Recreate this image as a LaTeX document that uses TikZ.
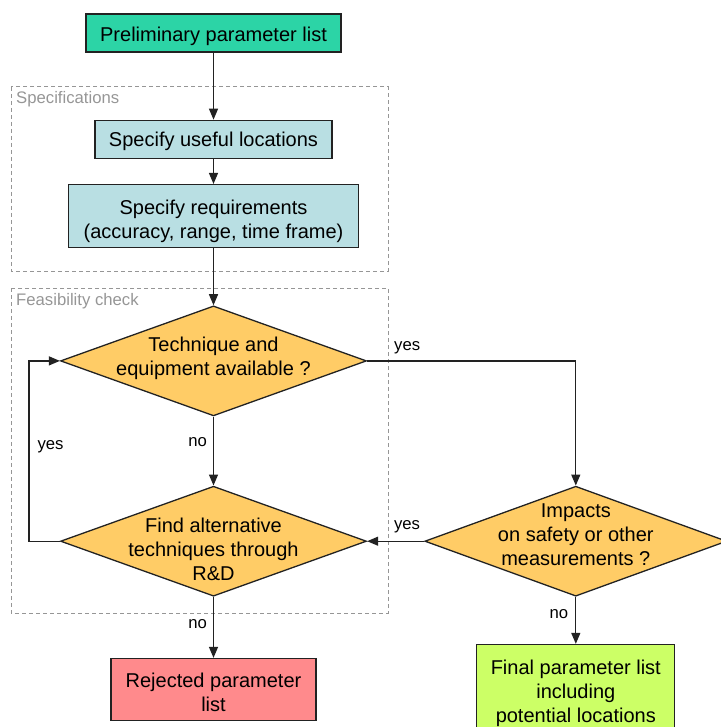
\documentclass[tikz,border=0pt]{standalone}
\usepackage{fontspec}
\setmainfont{Liberation Sans}
\usepackage{tikz}
\usetikzlibrary{positioning}
\usetikzlibrary{shapes.geometric}
\usetikzlibrary{arrows.meta}
\definecolor{linegray}{RGB}{34,34,34}
\definecolor{dashgray}{RGB}{150,150,150}
\definecolor{prelimfill}{RGB}{44,212,166}
\definecolor{specfill}{RGB}{185,223,227}
\definecolor{decisionfill}{RGB}{255,204,102}
\definecolor{rejectfill}{RGB}{255,138,140}
\definecolor{finalfill}{RGB}{204,255,102}

\begin{document}
\begin{tikzpicture}[x=1pt, y=1pt,
  box/.style={draw=linegray, line width=1.3pt, align=center, inner sep=0pt, text depth=4.2pt, font=\fontsize{20}{24}\selectfont},
  decision/.style={diamond, aspect=2.78, draw=linegray, fill=decisionfill, line width=1.3pt, inner sep=0pt, minimum width=306pt, minimum height=110pt},
  dtext/.style={align=center, inner sep=0pt, font=\fontsize{20}{24}\selectfont},
  flow/.style={draw=linegray, line width=1.3pt, -{Triangle[length=11pt,width=9pt]}},
  lbl/.style={inner sep=1pt, font=\fontsize{16.7}{20}\selectfont},
  groupbox/.style={draw=dashgray, line width=1pt, dash pattern=on 4pt off 3pt},
  grouplabel/.style={anchor=base west, inner sep=0pt, text=dashgray, font=\fontsize{16.7}{20}\selectfont}]
\useasboundingbox (0,0) rectangle (720,-727);

% Groups
\draw [groupbox] (11,-87) rectangle (388,-271);
\node [grouplabel] at (16,-103.5) (specs) {Specifications};
\draw [groupbox] (11,-288) rectangle (388,-613);
\node [grouplabel] at (16,-305.5) (feas) {Feasibility check};

% Levels 1 to 3
\node [box, fill=prelimfill, minimum width=255pt, minimum height=38pt, text height=21pt] at (213.5,-33) (1prelim) {Preliminary parameter list};
\node [box, fill=specfill, minimum width=237pt, minimum height=38pt, text height=18.6pt, below=67pt of 1prelim] (2locations) {Specify useful locations};
\node [box, fill=specfill, minimum width=290pt, minimum height=63pt, text height=48.6pt, below=25pt of 2locations] (3requirements) {Specify requirements\\(accuracy, range, time frame)};

% Levels 4 to 6
\node [decision, below=57pt of 3requirements,
  label={[dtext, yshift=3pt]center:{Technique and\\equipment available ?}}] (4technique) {};
\node [decision, below=69pt of 4technique,
  label={[dtext, yshift=-8pt]center:{Find alternative\\techniques through\\R\&D}}] (5alternative) {};
\node [decision, minimum width=302pt, right=57pt of 5alternative,
  label={[dtext, yshift=6pt]center:{Impacts\\on safety or other\\measurements ?}}] (5impacts) {};
\node [box, fill=rejectfill, minimum width=205pt, minimum height=62pt, text height=48.6pt, below=61pt of 5alternative] (6rejected) {Rejected parameter\\list};
\node [box, fill=finalfill, minimum width=198pt, minimum height=88pt, text height=72.6pt, below=47pt of 5impacts] (6final) {Final parameter list\\including\\potential locations};

% Connections
\draw [flow] (1prelim) -- (2locations);
\draw [flow] (2locations) -- (3requirements);
\draw [flow] (3requirements) -- (4technique);
\draw [flow] (4technique) -- node [lbl, left=5pt, pos=0.37] {no} (5alternative);
\draw [flow] (5alternative.west) -- ++(-31pt,0) |- node [lbl, right=7pt, pos=0.263] {yes} (4technique.west);
\draw [flow] (4technique.east) -| node [lbl, above=5pt, pos=0.096] {yes} (5impacts.north);
\draw [flow] (5impacts.west) -- node [lbl, above=7pt, pos=0.3] {yes} (5alternative.east);
\draw [flow] (5alternative.south) -- node [lbl, left=5pt, pos=0.44] {no} (6rejected.north);
\draw [flow] (5impacts.south) -- node [lbl, left=6pt, pos=0.37] {no} (6final.north);

\end{tikzpicture}
\end{document}
